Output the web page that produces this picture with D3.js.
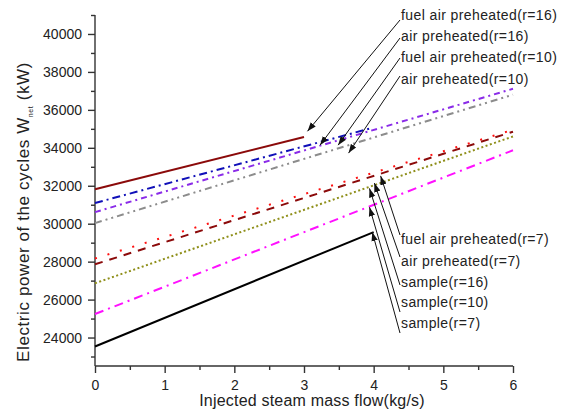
<!DOCTYPE html>
<html>
<head>
<meta charset="utf-8">
<script src="https://cdn.jsdelivr.net/npm/d3@7"></script>
<style>
  body { margin: 0; background: #fff; }
  svg { display: block; font-family: Arial, "Liberation Sans", sans-serif; }
  .axis path, .axis line { stroke: #333; stroke-width: 1.4px; }
  .axis text { font-size: 14px; fill: #222; font-family: Arial, "Liberation Sans", sans-serif; }
  .note { font-size: 14px; fill: #222; letter-spacing: 0.4px; }
  .arrow { stroke: #111; stroke-width: 1; }
</style>
</head>
<body>
<div id="chart"></div>
<script>
// injected steam mass flow (kg/s) at the ends of each line
const flowFuelAir16 = [0, 3];
const flowAir16 = [0, 3.95];
const flowSample7 = [0, 4];
const flowFull = [0, 6];

// W_net (kW)
const fuelAir16 = [31820, 34570];
const air16 = [31090, 35020];
const fuelAir10 = [30610, 37110];
const air10 = [30030, 36800];
const fuelAir7 = [28170, 34950];
const air7 = [27860, 34850];
const sample16 = [26860, 34600];
const sample10 = [25240, 33870];
const sample7 = [23530, 29560];

const yMajor = [24000, 26000, 28000, 30000, 32000, 34000, 36000, 38000, 40000];
const yMinor = [23000, 25000, 27000, 29000, 31000, 33000, 35000, 37000, 39000, 41000];
const xMajor = [0, 1, 2, 3, 4, 5, 6];
const xMinor = [0.5, 1.5, 2.5, 3.5, 4.5, 5.5];

// annotations: label text and where the arrow points (data units)
const noteLabels = ["fuel air preheated(r=16)", "air preheated(r=16)", "fuel air preheated(r=10)", "air preheated(r=10)",
  "fuel air preheated(r=7)", "air preheated(r=7)", "sample(r=16)", "sample(r=10)", "sample(r=7)"];
const noteTipX = [3.05, 3.23, 3.49, 3.64, 4.10, 4.01, 3.94, 3.94, 3.98];
const noteTipY = [34870, 34140, 34140, 33720, 32520, 32140, 31860, 30870, 29560];

var width = 565, height = 413;

const svg = d3.select("#chart").append("svg")
  .attr("width", width)
  .attr("height", height);

const x = d3.scaleLinear().domain([0, 6]).range([95, 513]);
const y = d3.scaleLinear().domain([22500, 41000]).range([366, 15]);

svg.append("defs").append("marker")
  .attr("id", "head")
  .attr("markerUnits", "userSpaceOnUse")
  .attr("viewBox", "0 -4 9 8")
  .attr("refX", 9).attr("refY", 0)
  .attr("markerWidth", 9).attr("markerHeight", 8)
  .attr("orient", "auto")
  .append("path")
  .attr("d", "M0,-3.2L9,0L0,3.2Z")
  .attr("fill", "#111");

// minor ticks first, then the labelled axis on top
svg.append("g").attr("class", "axis")
  .attr("transform", "translate(95,0)")
  .call(d3.axisLeft(y).tickValues(yMinor).tickSize(4).tickFormat(""))
  .select(".domain").remove();
svg.append("g").attr("class", "axis")
  .attr("transform", "translate(95,0)")
  .call(d3.axisLeft(y).tickValues(yMajor).tickSize(7).tickPadding(6).tickFormat(d3.format("d")))
  .select(".domain").attr("d", "M0," + y(22500) + "V" + y(41000));

svg.append("g").attr("class", "axis")
  .attr("transform", "translate(0,366)")
  .call(d3.axisBottom(x).tickValues(xMinor).tickSize(4).tickFormat(""))
  .select(".domain").remove();
svg.append("g").attr("class", "axis")
  .attr("transform", "translate(0,366)")
  .call(d3.axisBottom(x).tickValues(xMajor).tickSize(7).tickPadding(7).tickFormat(d3.format("d")))
  .select(".domain").attr("d", "M" + x(0) + ",0H" + x(6));

// series
const series = [
  { xs: flowFuelAir16, ys: fuelAir16, color: "#8b0a0a", dash: null },
  { xs: flowAir16, ys: air16, color: "#1010b8", dash: "8,4,2,4" },
  { xs: flowFull, ys: fuelAir10, color: "#8a2be8", dash: "6,4,2,4" },
  { xs: flowFull, ys: air10, color: "#8c8c8c", dash: "7,4,2,4,2,4" },
  { xs: flowFull, ys: fuelAir7, color: "#ff1010", dash: "2,11" },
  { xs: flowFull, ys: air7, color: "#8b0a0a", dash: "8,7" },
  { xs: flowFull, ys: sample16, color: "#8f8f1a", dash: "2,2.5" },
  { xs: flowFull, ys: sample10, color: "#ff10ff", dash: "9,5,2,5" },
  { xs: flowSample7, ys: sample7, color: "#000", dash: null }
];

const line = d3.line().x(d => x(d[0])).y(d => y(d[1]));

svg.append("g").selectAll("path")
  .data(series)
  .enter().append("path")
  .attr("d", d => line(d.xs.map((v, i) => [v, d.ys[i]])))
  .attr("fill", "none")
  .attr("stroke", d => d.color)
  .attr("stroke-width", 2)
  .attr("stroke-dasharray", d => d.dash);

// annotation labels and arrows
const labelY = [15, 36, 57.5, 79, 239.5, 261.5, 282, 302, 323];
const startY = [20, 38, 58, 76, 235, 257, 285, 312, 333];

const notes = svg.append("g");
notes.selectAll("line")
  .data(noteLabels)
  .enter().append("line")
  .attr("class", "arrow")
  .attr("x1", 400).attr("y1", (d, i) => startY[i])
  .attr("x2", (d, i) => x(noteTipX[i]))
  .attr("y2", (d, i) => y(noteTipY[i]))
  .attr("marker-end", "url(#head)");
notes.selectAll("text")
  .data(noteLabels)
  .enter().append("text")
  .attr("class", "note")
  .attr("x", 401)
  .attr("y", (d, i) => labelY[i])
  .attr("dy", "0.35em")
  .text(d => d);

// axis titles
svg.append("text")
  .attr("x", 312).attr("y", 406)
  .attr("text-anchor", "middle")
  .style("font-size", "16px")
  .style("letter-spacing", "0.2px")
  .style("fill", "#222")
  .text("Injected steam mass flow(kg/s)");

const yt = svg.append("text")
  .attr("transform", "translate(28.5,212) rotate(-90)")
  .attr("text-anchor", "middle")
  .style("font-size", "17px")
  .style("letter-spacing", "0.6px")
  .style("fill", "#222");
yt.append("tspan").text("Electric power of the cycles  W");
yt.append("tspan").attr("dy", 4).style("font-size", "7px").text("net");
yt.append("tspan").attr("dy", -4).text(" (kW)");
</script>
</body>
</html>
